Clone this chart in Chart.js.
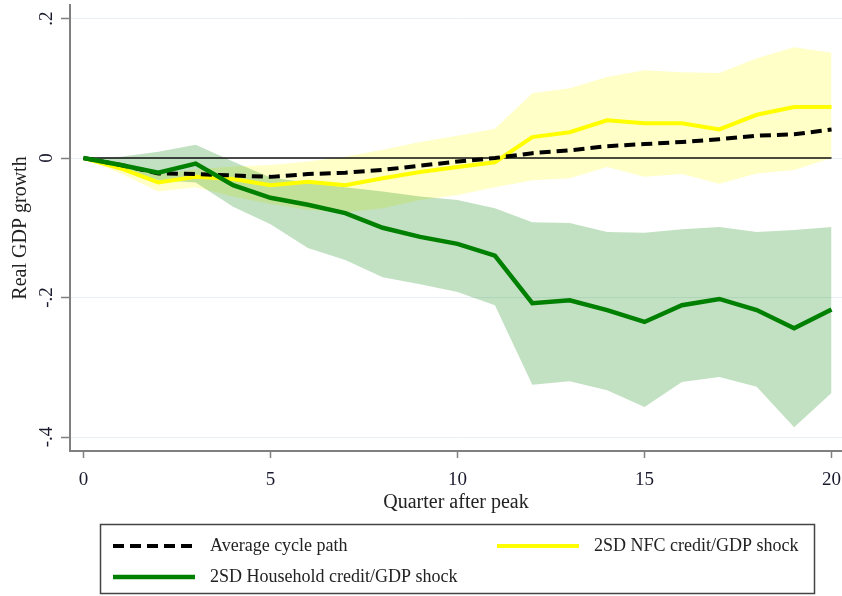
<!DOCTYPE html>
<html>
<head>
<meta charset="utf-8">
<script src="https://cdn.jsdelivr.net/npm/chart.js@4.4.1/dist/chart.umd.min.js"></script>
<style>
  html, body { margin: 0; padding: 0; background: #fff; }
</style>
</head>
<body>
<canvas id="irf" width="842" height="596"></canvas>
<script>
// quarters after the cyclical peak
const quarters = [0, 1, 2, 3, 4, 5, 6, 7, 8, 9, 10, 11, 12, 13, 14, 15, 16, 17, 18, 19, 20];

// average cycle path
const avgPath = [0, -0.01, -0.022, -0.023, -0.025, -0.027, -0.023, -0.021, -0.017, -0.011, -0.005,
                 0.0, 0.007, 0.011, 0.017, 0.02, 0.023, 0.027, 0.032, 0.034, 0.041];

// 2SD NFC credit/GDP shock with its band
const nfcPath = [0, -0.015, -0.035, -0.027, -0.03, -0.039, -0.034, -0.039, -0.029, -0.02, -0.013,
                 -0.006, 0.03, 0.037, 0.054, 0.05, 0.05, 0.041, 0.062, 0.073, 0.073];
const nfcUpper = [0, -0.006, -0.024, -0.016, -0.012, -0.01, -0.005, 0.002, 0.012, 0.023, 0.032,
                  0.042, 0.093, 0.1, 0.116, 0.126, 0.123, 0.122, 0.143, 0.159, 0.151];
const nfcLower = [0, -0.022, -0.048, -0.042, -0.055, -0.066, -0.074, -0.078, -0.072, -0.06, -0.053,
                  -0.042, -0.032, -0.029, -0.013, -0.027, -0.023, -0.037, -0.022, -0.017, 0.0];

// 2SD household credit/GDP shock with its band
const hhPath = [0, -0.01, -0.021, -0.008, -0.039, -0.057, -0.067, -0.079, -0.1, -0.113, -0.123,
                -0.14, -0.208, -0.204, -0.218, -0.235, -0.211, -0.202, -0.218, -0.244, -0.217];
const hhUpper = [0, 0.002, 0.009, 0.019, -0.005, -0.028, -0.035, -0.042, -0.048, -0.055, -0.06,
                 -0.072, -0.092, -0.093, -0.106, -0.107, -0.102, -0.099, -0.106, -0.103, -0.099];
const hhLower = [0, -0.015, -0.032, -0.035, -0.07, -0.095, -0.129, -0.146, -0.171, -0.181, -0.192,
                 -0.211, -0.325, -0.32, -0.333, -0.357, -0.321, -0.314, -0.328, -0.386, -0.337];

const zeroLine = [0, 0];
const zeroQuarters = [0, 20];

const xTicks = [0, 5, 10, 15, 20];
const yTicks = [0.2, 0, -0.2, -0.4];
const yTickLabels = ['.2', '0', '-.2', '-.4'];

const serif = '"Liberation Serif", "Times New Roman", serif';
const GREEN = '#008000';
const YELLOW = '#ffff00';

const pts = (xs, ys) => ys.map((v, i) => ({ x: xs[i], y: v }));

const band = (data, color, fill, order) => ({
    data: data,
    borderWidth: 0,
    pointRadius: 0,
    backgroundColor: color,
    fill: fill,
    order: order,
    tension: 0,
});

// y tick labels are drawn turned on their side, plus the boxed legend below the axis
const extras = {
    id: "extras",
    afterDraw(chart) {
        const ctx = chart.ctx;
        const ys = chart.scales.y;
        ctx.save();
        ctx.fillStyle = "#1a1a2e";
        ctx.font = "19px " + serif;
        ctx.textAlign = "center";
        ctx.textBaseline = "middle";
        yTicks.forEach((v, i) => {
            ctx.save();
            ctx.translate(47, ys.getPixelForValue(v));
            ctx.rotate(-Math.PI / 2);
            ctx.fillText(yTickLabels[i], 0, 0);
            ctx.restore();
        });

        ctx.strokeStyle = "#444";
        ctx.lineWidth = 1.5;
        ctx.strokeRect(100.5, 524.5, 714, 69);

        const entries = [
            { label: "Average cycle path", x: 113, y: 546 },
            { label: "2SD NFC credit/GDP shock", x: 497, y: 546 },
            { label: "2SD Household credit/GDP shock", x: 113, y: 577 },
        ];
        ctx.font = "18px " + serif;
        ctx.textAlign = "left";
        entries.forEach(e => {
            const ds = chart.data.datasets.find(d => d.label === e.label);
            ctx.save();
            ctx.strokeStyle = ds.borderColor;
            ctx.lineWidth = ds.borderWidth;
            ctx.setLineDash(ds.borderDash || []);
            ctx.beginPath();
            ctx.moveTo(e.x, e.y);
            ctx.lineTo(e.x + 82, e.y);
            ctx.stroke();
            ctx.restore();
            ctx.fillStyle = "#222";
            ctx.fillText(e.label, e.x + 97, e.y);
        });
        ctx.restore();
    },
};

const config = {
    type: "line",
    data: {
        datasets: [
            // 0,1: household band
            band(pts(quarters, hhUpper), "rgba(0,128,0,0.24)", "+1", 5),
            band(pts(quarters, hhLower), "rgba(0,128,0,0.24)", false, 5),
            // 2,3: NFC band
            band(pts(quarters, nfcUpper), "rgba(255,255,0,0.22)", "+1", 6),
            band(pts(quarters, nfcLower), "rgba(255,255,0,0.22)", false, 6),
            {
                data: pts(zeroQuarters, zeroLine),
                borderColor: "#111",
                borderWidth: 1.5,
                pointRadius: 0,
                fill: false,
                order: 4,
            },
            {
                label: "2SD NFC credit/GDP shock",
                data: pts(quarters, nfcPath),
                borderColor: YELLOW,
                borderWidth: 4,
                pointRadius: 0,
                fill: false,
                order: 3,
                tension: 0,
            },
            {
                label: "Average cycle path",
                data: pts(quarters, avgPath),
                borderColor: "#000",
                borderWidth: 4,
                borderDash: [11, 6],
                pointRadius: 0,
                fill: false,
                order: 2,
                tension: 0,
            },
            {
                label: "2SD Household credit/GDP shock",
                data: pts(quarters, hhPath),
                borderColor: GREEN,
                borderWidth: 4.5,
                pointRadius: 0,
                fill: false,
                order: 1,
                tension: 0,
            },
        ],
    },
    options: {
        responsive: false,
        animation: false,
        layout: { padding: { top: 5, right: 0, bottom: 80, left: 0 } },
        plugins: {
            legend: { display: false },
            tooltip: { enabled: false },
        },
        scales: {
            x: {
                type: "linear",
                min: -0.36,
                max: 20.28,
                afterBuildTicks: s => { s.ticks = xTicks.map(v => ({ value: v })); },
                afterFit: s => { s.height = 65; s.paddingLeft = 0; s.paddingRight = 0; },
                ticks: {
                    color: "#1a1a2e",
                    font: { family: serif, size: 19 },
                    padding: 11,
                    maxRotation: 0,
                    callback: v => String(v),
                },
                grid: { drawOnChartArea: false, tickLength: 7, tickColor: "#808080", tickWidth: 1.5 },
                border: { display: true, color: "#808080", width: 2 },
                title: {
                    display: true,
                    text: "Quarter after peak",
                    color: "#222",
                    font: { family: serif, size: 20 },
                    padding: { top: 0, bottom: 1 },
                },
            },
            y: {
                min: -0.42,
                max: 0.2194,
                afterBuildTicks: s => { s.ticks = yTicks.map(v => ({ value: v })); },
                afterFit: s => { s.width = 70; s.paddingTop = 0; s.paddingBottom = 0; },
                ticks: { display: false },
                grid: { color: "#e6eff2", lineWidth: 1, tickLength: 9, tickColor: "#808080", tickWidth: 1.5 },
                border: { display: true, color: "#808080", width: 2 },
                title: {
                    display: true,
                    text: "Real GDP growth",
                    color: "#222",
                    font: { family: serif, size: 20 },
                    padding: { top: 9, bottom: 0 },
                },
            },
        },
    },
    plugins: [extras],
};

new Chart(document.getElementById("irf"), config);
</script>
</body>
</html>
